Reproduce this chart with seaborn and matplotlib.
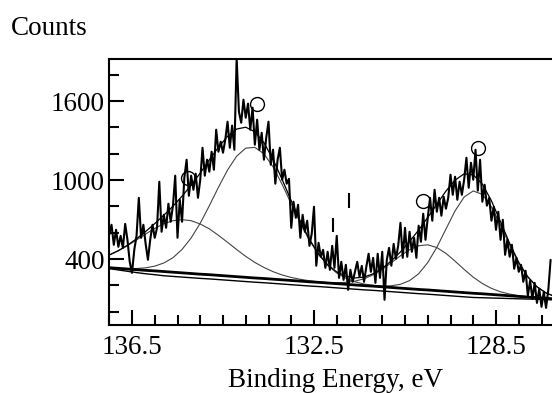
import numpy as np
import pandas as pd
import matplotlib
matplotlib.use("Agg")
import matplotlib.pyplot as plt
import seaborn as sns
from matplotlib.ticker import FixedLocator, MultipleLocator

# ---- measured spectrum: scan from 137.0 eV down in 0.05 eV steps ----
scan_start, scan_step = 137.0, 0.05
counts = [
    585, 661, 509, 623, 494, 577, 486, 668, 547, 380,
    296, 471, 577, 866, 562, 661, 516, 395, 547, 661,
    562, 638, 988, 608, 737, 638, 821, 684, 806, 1034,
    562, 851, 684, 1018, 1155, 881, 1034, 927, 1049, 866,
    1003, 1246, 1034, 1155, 1064, 1216, 1079, 1383, 1216, 1292,
    1208, 1307, 1444, 1246, 1414, 1231, 1925, 1520, 1436, 1611,
    1474, 1581, 1383, 1550, 1269, 1459, 1231, 1360, 1155, 1322,
    1444, 1117, 1231, 973, 1155, 1246, 1003, 1079, 973, 1010,
    638, 836, 714, 813, 562, 737, 608, 692, 501, 593,
    798, 350, 524, 418, 471, 334, 456, 319, 501, 334,
    577, 258, 380, 243, 357, 167, 319, 228, 304, 380,
    266, 349, 228, 342, 441, 304, 410, 220, 441, 258,
    456, 91, 395, 486, 350, 516, 403, 501, 676, 410,
    638, 418, 608, 456, 562, 410, 654, 532, 745, 547,
    714, 866, 692, 927, 760, 866, 730, 874, 783, 866,
    1041, 889, 1026, 851, 988, 889, 1003, 1170, 942, 1132,
    1003, 1231, 920, 1155, 836, 965, 806, 866, 692, 798,
    623, 760, 547, 699, 433, 547, 418, 509, 327, 410,
    304, 357, 228, 312, 122, 236, 99, 220, 68, 175,
    38, 152, 30, 167, 395,
]

# ---- fit results on a 0.2 eV grid ----
fit_start, fit_step = 137.0, 0.2
background = [
    335, 330, 325, 320, 315, 311, 306, 301, 296, 291,
    286, 282, 277, 272, 267, 262, 257, 253, 248, 243,
    238, 233, 228, 224, 219, 214, 209, 204, 199, 195,
    190, 185, 180, 175, 170, 166, 161, 156, 151, 146,
    141, 137, 132, 127, 122, 117, 112, 108, 103, 98,
]
background_2 = [
    328, 318, 308, 298, 289, 282, 274, 269, 264, 259,
    254, 250, 245, 240, 235, 230, 225, 221, 216, 211,
    206, 201, 196, 192, 187, 182, 177, 172, 167, 163,
    158, 153, 148, 143, 138, 134, 129, 124, 119, 114,
    109, 107, 105, 103, 101, 99, 97, 96, 93, 90,
]
peak_1 = [1, 2, 4, 9, 19, 36, 65, 110, 178, 270,
          387, 524, 669, 805, 915, 981, 992, 947, 853, 725,
          582, 440, 314, 212, 134, 81, 46, 24, 12, 6,
          3, 1] + [0] * 18
peak_2 = [96, 133, 177, 226, 276, 323, 363, 391, 404, 401,
          381, 348, 304, 256, 206, 159, 118, 84, 57, 37,
          23, 14, 8, 4, 2, 1] + [0] * 24
peak_3 = [0] * 23 + [1, 3, 7, 15, 29, 52, 86, 132, 188, 246,
                     297, 332, 343, 327, 288, 234, 176, 122, 78, 46,
                     25, 13, 6, 3, 1, 0, 0]
peak_4 = [0] * 28 + [1, 2, 5, 13, 29, 62, 119, 208, 329, 473,
                     615, 726, 777, 755, 665, 532, 385, 253, 151, 82,
                     40, 18]

# peak labels and stray markers (energy, counts)
label_e = [133.75, 135.27, 130.10, 128.90]
label_c = [1580, 1018, 843, 1246]
dash_e = [131.73, 132.08]
dash_lo = [790, 608]
dash_hi = [904, 714]

x_major = [136.5, 132.5, 128.5]
y_major = [400, 1000, 1600]

# ---- tables ----
scan = pd.DataFrame({"energy": scan_start - scan_step * np.arange(len(counts)),
                     "counts": counts})
fit = pd.DataFrame({"energy": fit_start - fit_step * np.arange(len(background)),
                    "bg": background, "bg2": background_2})
for name, comp in [("p1", peak_1), ("p2", peak_2), ("p3", peak_3), ("p4", peak_4)]:
    fit[name] = fit["bg"] + np.array(comp)
fit["envelope"] = (fit["bg"] + np.array(peak_1) + np.array(peak_2)
                   + np.array(peak_3) + np.array(peak_4))

# ---- figure ----
sns.set_theme(style="white")
plt.rcParams["font.family"] = ["Liberation Serif", "DejaVu Serif"]
plt.rcParams["axes.linewidth"] = 1.5

fig = plt.figure(figsize=(5.52, 3.93), dpi=100)
fig.patch.set_facecolor("white")
ax = fig.add_axes([109.25 / 552, 1 - 325 / 393, 455 / 552, 266 / 393])
ax.set_facecolor("white")

for col in ["p1", "p2", "p3", "p4"]:
    sns.lineplot(data=fit, x="energy", y=col, ax=ax, color="#444444",
                 lw=0.8, estimator=None, sort=False)
sns.lineplot(data=fit, x="energy", y="bg2", ax=ax, color="black", lw=1.0,
             estimator=None, sort=False)
sns.lineplot(data=fit, x="energy", y="bg", ax=ax, color="black", lw=2.0,
             estimator=None, sort=False)
sns.lineplot(data=fit, x="energy", y="envelope", ax=ax, color="black", lw=0.9,
             estimator=None, sort=False)
sns.lineplot(data=scan, x="energy", y="counts", ax=ax, color="black", lw=1.5,
             estimator=None, sort=False)

ax.plot(label_e, label_c, ls="none", marker="o", ms=10, mfc="none",
        mec="black", mew=1.0)
ax.vlines(dash_e, dash_lo, dash_hi, color="black", lw=1.5)

ax.set_xlim(137.0, 127.0)
ax.set_ylim(-100, 1920)
ax.xaxis.set_major_locator(FixedLocator(x_major))
ax.xaxis.set_minor_locator(MultipleLocator(0.5))
ax.yaxis.set_major_locator(FixedLocator(y_major))
ax.yaxis.set_minor_locator(MultipleLocator(200))
ax.set_xticklabels([f"{v:.1f}" for v in x_major])
ax.set_yticklabels([str(v) for v in y_major])
ax.tick_params(which="both", bottom=True, left=True, top=False, right=False,
               direction="in", width=1.5, colors="black")
ax.tick_params(which="major", length=11, labelsize=19.5)
ax.tick_params(which="minor", length=7.5)
ax.tick_params(axis="y", which="major", pad=3)
ax.tick_params(axis="x", which="major", pad=7)
ax.set_xlabel("")
ax.set_ylabel("")
for side in ["left", "bottom", "top"]:
    ax.spines[side].set_color("black")
    ax.spines[side].set_linewidth(1.5)
ax.spines["right"].set_visible(False)

fig.text(11 / 552, 1 - 35 / 393, "Counts", fontsize=19.5, ha="left",
         va="baseline", color="black")
fig.text(336 / 552, 1 - 387 / 393, "Binding Energy, eV", fontsize=19.5,
         ha="center", va="baseline", color="black")

fig.savefig("out.png", dpi=100, facecolor="white")
